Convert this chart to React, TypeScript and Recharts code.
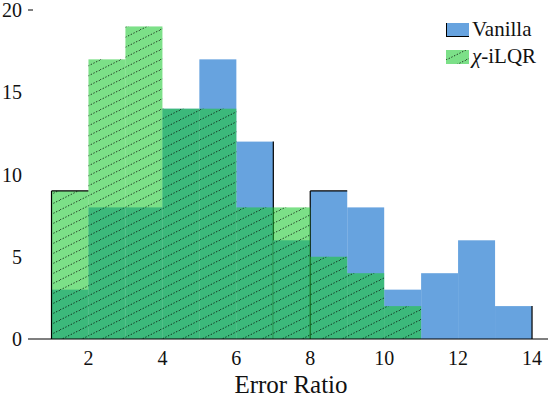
import { BarChart, Bar, XAxis, YAxis } from 'recharts'

// histogram bins of width 1, left edges 1..13
const binStarts = [1, 2, 3, 4, 5, 6, 7, 8, 9, 10, 11, 12, 13]
const vanillaCounts = [3, 8, 8, 14, 17, 12, 6, 9, 8, 3, 4, 6, 2]
const chiCounts = [9, 17, 19, 14, 14, 8, 8, 5, 4, 2, 0, 0, 0]
const xTicks = [2, 4, 6, 8, 10, 12, 14]
const yTicks = [0, 5, 10, 15, 20]

// black edge strokes that the original export left on a few bins
const vanillaEdges: Record<number, string> = { 5: 'r', 7: 'lt', 12: 'r' }
const chiEdges: Record<number, string> = { 0: 'lt' }

const data = binStarts.map((b, i) => ({
  mid: b + 0.5,
  vanilla: vanillaCounts[i],
  chi: chiCounts[i],
}))

const FONT = '"Liberation Serif", "Times New Roman", serif'
const BLUE = '#67a3df'
const GREEN = '#1ec932'
const GREEN_OPACITY = 0.58

function edgeLines(x: number, y: number, w: number, h: number, edges?: string) {
  if (!edges) return null
  return (
    <g stroke="#000" strokeWidth={1.2}>
      {edges.includes('l') && <line x1={x} x2={x} y1={y} y2={y + h} />}
      {edges.includes('r') && <line x1={x + w} x2={x + w} y1={y} y2={y + h} />}
      {edges.includes('t') && <line x1={x} x2={x + w} y1={y} y2={y} />}
    </g>
  )
}

const VanillaShape = (props: any) => {
  const { x, y, width, height, index } = props
  if (!height) return null
  return (
    <g>
      <rect x={x} y={y} width={width} height={height} fill={BLUE} />
      {edgeLines(x, y, width, height, vanillaEdges[index])}
    </g>
  )
}

const ChiShape = (props: any) => {
  const { x, y, width, height, index } = props
  if (!height) return null
  return (
    <g>
      <rect x={x} y={y} width={width} height={height} fill={GREEN} fillOpacity={GREEN_OPACITY} />
      <rect x={x} y={y} width={width} height={height} fill="url(#hatch)" />
      {edgeLines(x, y, width, height, chiEdges[index])}
    </g>
  )
}

const YTick = (props: any) => {
  const { y, payload } = props
  return (
    <g>
      <text x={22} y={y} textAnchor="end" dominantBaseline="central" fontFamily={FONT} fontSize={20} fill="#111">
        {payload.value}
      </text>
      {payload.value === 20 && <line x1={28} x2={33} y1={y} y2={y} stroke="#000" strokeWidth={1} />}
    </g>
  )
}

const XTick = (props: any) => {
  const { x, payload } = props
  return (
    <g>
      <text x={x} y={358} textAnchor="middle" dominantBaseline="central" fontFamily={FONT} fontSize={20} fill="#111">
        {payload.value}
      </text>
      {payload.value === 8 && (
        <text x={291} y={384} textAnchor="middle" dominantBaseline="central" fontFamily={FONT} fontSize={25} fill="#111">
          Error Ratio
        </text>
      )}
    </g>
  )
}

const LegendBox = () => (
  <div style={{ position: 'absolute', left: 446, top: 16, fontFamily: FONT, fontSize: 21, color: '#111', lineHeight: '27px' }}>
    <div style={{ display: 'flex', alignItems: 'center' }}>
      <svg width={26} height={14}>
        <rect x={0} y={0} width={23} height={14} fill={BLUE} />
        <line x1={0.5} x2={0.5} y1={0} y2={14} stroke="#000" />
        <line x1={0} x2={23} y1={13.5} y2={13.5} stroke="#000" />
      </svg>
      <span>Vanilla</span>
    </div>
    <div style={{ display: 'flex', alignItems: 'center' }}>
      <svg width={26} height={14}>
        <rect x={0} y={0} width={23} height={14} fill={GREEN} fillOpacity={GREEN_OPACITY} />
        <rect x={0} y={0} width={23} height={14} fill="url(#hatch)" />
      </svg>
      <span>
        <i>χ</i>-iLQR
      </span>
    </div>
  </div>
)

export default function App() {
  return (
    <div style={{ position: 'absolute', left: 0, top: 0, width: 548, height: 396, background: '#fff' }}>
      <BarChart
        width={548}
        height={396}
        data={data}
        margin={{ top: 10, right: 0, left: 0, bottom: 27 }}
        barCategoryGap={0}
        barGap={0}
      >
        <defs>
          <pattern id="hatch" patternUnits="userSpaceOnUse" width={20} height={10}>
            <line x1={0} y1={10} x2={20} y2={0} stroke="#000" strokeWidth={0.8} strokeDasharray="1.3 1.7" />
          </pattern>
        </defs>
        <XAxis xAxisId="g" dataKey="mid" type="number" domain={[0.364, 14.433]} allowDataOverflow height={0} hide />
        <XAxis
          xAxisId="v"
          dataKey="mid"
          type="number"
          domain={[0.364, 14.433]}
          ticks={xTicks}
          allowDataOverflow
          height={30}
          tickLine={false}
          axisLine={{ stroke: '#000', strokeWidth: 1.2 }}
          tick={<XTick />}
        />
        <YAxis width={28} domain={[0, 20]} ticks={yTicks} axisLine={false} tickLine={false} tick={<YTick />} />
        <Bar xAxisId="v" dataKey="vanilla" name="Vanilla" fill={BLUE} shape={<VanillaShape />} isAnimationActive={false} />
        <Bar xAxisId="g" dataKey="chi" name="χ-iLQR" fill={GREEN} shape={<ChiShape />} isAnimationActive={false} />
      </BarChart>
      <LegendBox />
    </div>
  )
}
